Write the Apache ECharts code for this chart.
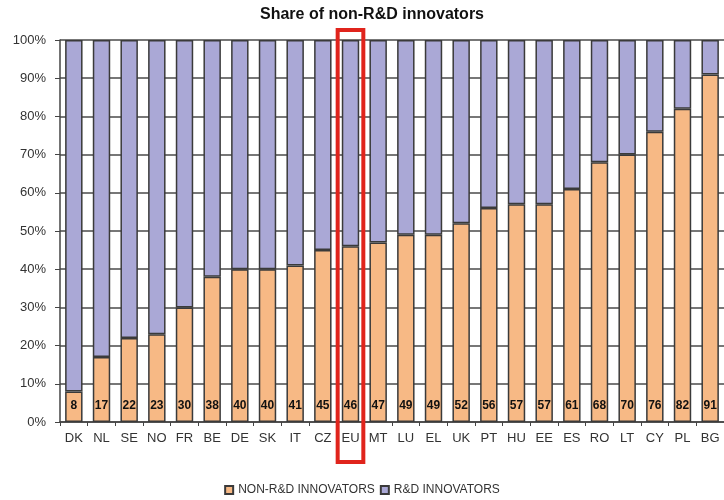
<!DOCTYPE html>
<html>
<head>
<meta charset="utf-8">
<script src="https://cdn.jsdelivr.net/npm/echarts@6/dist/echarts.min.js"></script>
<style>
  html, body { margin: 0; padding: 0; background: #fff; }
  #chart { width: 724px; height: 500px; }
</style>
</head>
<body>
<div id="chart"></div>
<script>
var countries = ['DK','NL','SE','NO','FR','BE','DE','SK','IT','CZ','EU','MT','LU','EL','UK','PT','HU','EE','ES','RO','LT','CY','PL','BG'];
var nonRdShare = [8,17,22,23,30,38,40,40,41,45,46,47,49,49,52,56,57,57,61,68,70,76,82,91];
var rdShare = [92,83,78,77,70,62,60,60,59,55,54,53,51,51,48,44,43,43,39,32,30,24,18,9];
var highlighted = 'EU';

var myChart = echarts.init(document.getElementById('chart'));
var option = {
    animation: false,
    title: {
        text: 'Share of non-R&D innovators',
        left: 367,
        textAlign: 'center',
        top: 2,
        textStyle: {
            fontFamily: 'Liberation Sans Narrow, Arial Narrow, Liberation Sans',
            fontSize: 16,
            fontWeight: 'bold',
            color: '#111'
        }
    },
    legend: {
        bottom: -1,
        left: 'center',
        itemWidth: 8,
        itemHeight: 8,
        itemGap: 5,
        icon: 'rect',
        textStyle: {
            fontFamily: 'Liberation Sans',
            fontSize: 12,
            color: '#333'
        },
        data: ['NON-R&D INNOVATORS', 'R&D INNOVATORS']
    },
    grid: {
        left: 60,
        right: -1,
        top: 40,
        bottom: 78
    },
    xAxis: {
        type: 'category',
        data: countries,
        axisLine: { lineStyle: { color: '#444', width: 1.5 } },
        axisTick: { show: true, length: 4, lineStyle: { color: '#444' } },
        axisLabel: {
            fontFamily: 'Liberation Sans',
            fontSize: 13,
            color: '#333',
            margin: 10,
            interval: 0
        }
    },
    yAxis: {
        type: 'value',
        min: 0,
        max: 100,
        interval: 10,
        axisLine: { show: true, lineStyle: { color: '#444', width: 1.5 } },
        axisTick: { show: true, length: 5, lineStyle: { color: '#444' } },
        axisLabel: {
            formatter: '{value}%',
            fontFamily: 'Liberation Sans',
            fontSize: 13,
            color: '#333',
            margin: 14
        },
        splitLine: { lineStyle: { color: '#4a4a4a', width: 1.5 } }
    },
    series: [{
        name: 'NON-R&D INNOVATORS',
        type: 'bar',
        stack: 'share',
        barWidth: '63%',
        data: nonRdShare,
        itemStyle: { color: '#f7b985', borderColor: '#3a3a3a', borderWidth: 1.5 },
        label: {
            show: true,
            position: 'insideBottom',
            distance: 10,
            fontFamily: 'Liberation Sans',
            fontWeight: 'bold',
            fontSize: 12,
            color: '#111'
        }
    }, {
        name: 'R&D INNOVATORS',
        type: 'bar',
        stack: 'share',
        data: rdShare,
        itemStyle: { color: '#aaa8d6', borderColor: '#3a3a3a', borderWidth: 1.5 }
    }]
};
myChart.setOption(option);

// red frame round the highlighted category, placed from the axis scale
var cx = myChart.convertToPixel({ xAxisIndex: 0 }, highlighted);
var band = myChart.getModel().getComponent('xAxis', 0).axis.getBandWidth();
var yTop = myChart.convertToPixel({ yAxisIndex: 0 }, 100);
var yBottom = myChart.convertToPixel({ yAxisIndex: 0 }, 0);
myChart.setOption({
    graphic: [{
        type: 'rect',
        shape: { x: cx - band / 2 + 1, y: yTop - 10, width: band - 2, height: yBottom - yTop + 50 },
        style: { fill: 'none', stroke: '#e0241c', lineWidth: 4 },
        z: 100
    }]
});
</script>
</body>
</html>
